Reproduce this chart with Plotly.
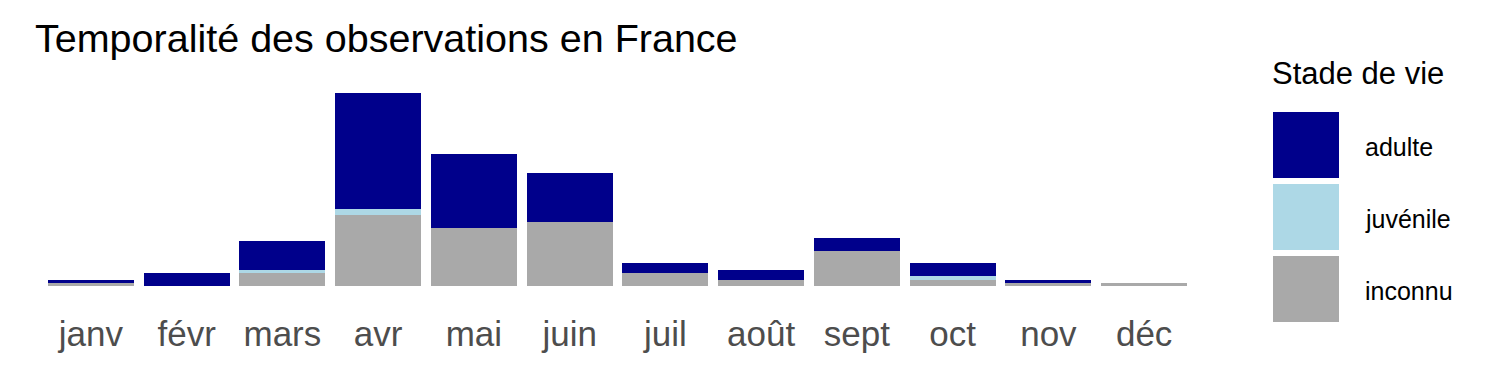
import plotly.graph_objects as go

# ---- data ----
months = ["janv", "févr", "mars", "avr", "mai", "juin", "juil", "août", "sept", "oct", "nov", "déc"]
inconnu = [1, 0, 4, 22, 18, 20, 4, 2, 11, 2, 1, 1]
juvenile = [0, 0, 1, 2, 0, 0, 0, 0, 0, 1, 0, 0]
adulte = [1, 4, 9, 36, 23, 15, 3, 3, 4, 4, 1, 0]

series_names = ["adulte", "juvénile", "inconnu"]
series_colors = {"adulte": "#00008B", "juvénile": "#ADD8E6", "inconnu": "#A9A9A9"}

W, H = 1500, 375
L, R, T, B = 43, 308, 83, 89
FONT = "Liberation Sans, Arial, sans-serif"

fig = go.Figure()
for name, vals in [("inconnu", inconnu), ("juvénile", juvenile), ("adulte", adulte)]:
    fig.add_trace(go.Bar(x=months, y=vals, name=name,
                         marker=dict(color=series_colors[name], line=dict(width=0)),
                         showlegend=False))

def px_x(p):
    return (p - L) / (W - L - R)

def px_y(p):
    return 1 - (p - T) / (H - T - B)

shapes = []
annotations = []
# legend title
annotations.append(dict(text="Stade de vie", xref="paper", yref="paper",
                        x=px_x(1270), y=px_y(74), xanchor="left", yanchor="middle",
                        showarrow=False, font=dict(family=FONT, size=31, color="#000000")))
key_tops = [112, 184, 256]
for name, top in zip(series_names, key_tops):
    shapes.append(dict(type="rect", xref="paper", yref="paper",
                       x0=px_x(1273), x1=px_x(1339), y0=px_y(top), y1=px_y(top + 66),
                       fillcolor=series_colors[name], line=dict(width=0)))
    annotations.append(dict(text=name, xref="paper", yref="paper",
                            x=px_x(1363), y=px_y(top + 35), xanchor="left", yanchor="middle",
                            showarrow=False, font=dict(family=FONT, size=25, color="#000000")))

fig.update_layout(
    width=W, height=H,
    margin=dict(l=L, r=R, t=T, b=B, pad=0),
    barmode="stack", bargap=0.1,
    plot_bgcolor="white", paper_bgcolor="white",
    title=dict(text="Temporalité des observations en France", x=35 / W, xanchor="left",
               xref="container", yref="container", y=1 - 24 / H, yanchor="top",
               font=dict(family=FONT, size=39.5, color="#000000")),
    xaxis=dict(showgrid=False, zeroline=False, showline=False, ticks="",
               tickfont=dict(family=FONT, size=35, color="#4D4D4D"),
               ticklabelstandoff=24,
               range=[-0.5, 11.5]),
    yaxis=dict(visible=False, range=[0, 63]),
    shapes=shapes, annotations=annotations,
    showlegend=False,
)

fig.write_html("out.html")
